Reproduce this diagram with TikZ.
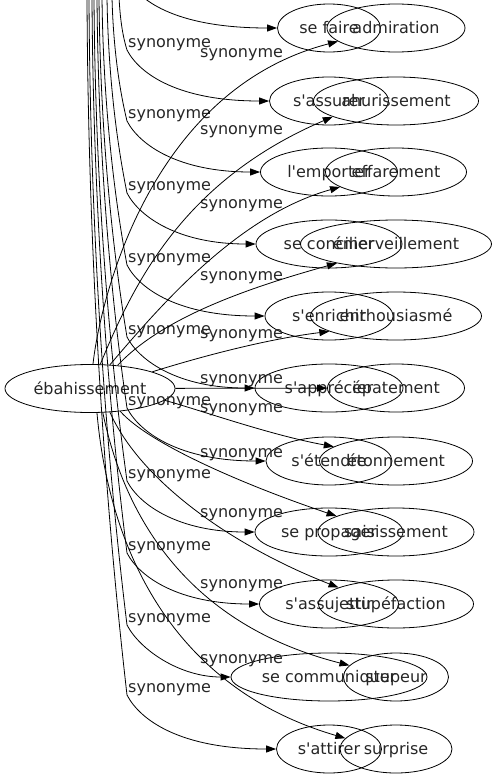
\documentclass[tikz,border=0pt]{standalone}
\usepackage{fontspec}
\setmainfont{DejaVu Sans}
\usetikzlibrary{arrows.meta, shapes.geometric}
\newcommand{\apos}{\textquotesingle}

\begin{document}
\begin{tikzpicture}[
                    % GLOBAL CFG
                    x=1pt, y=-1pt,
                    font=\fontsize{16}{19}\selectfont,
                    >={Triangle[length=10pt, width=7pt]},
                    % Styles
                    word/.style={% For the ellipses
                            ellipse,
                            draw,
                            line width=.8pt,
                            minimum height=48pt,
                            inner sep=0pt,
                            text height=11pt,
                            text depth=0pt,
                            text=black!85,
                        },
                    synlabel/.style={% For the edge labels
                            anchor=base west,
                            inner sep=0pt,
                            text=black!85,
                        },
                    link/.style={% For the connectors
                            line width=.8pt,
                        },
                ]

                % Page and cut
                \useasboundingbox (0,0) rectangle (497,779);
                \clip (0,0) rectangle (497,779);

                % Draw the source
                \node [word, minimum width=170pt] (eb) at (90,388.5) {ébahissement};

                % Draw verbs named verb#
                \node [word, minimum width=103pt] (verb1) at (329,28) {se faire};
                \node [word, minimum width=119pt] (verb2) at (329,101) {s\apos assurer};
                \node [word, minimum width=137pt] (verb3) at (329,172) {l\apos emporter};
                \node [word, minimum width=146pt] (verb4) at (329,244) {se concilier};
                \node [word, minimum width=128pt] (verb5) at (329,316) {s\apos enrichir};
                \node [word, minimum width=148pt] (verb6) at (329,388) {s\apos apprécier};
                \node [word, minimum width=126pt] (verb7) at (329,461) {s\apos étendre};
                \node [word, minimum width=148pt] (verb8) at (329,532) {se propager};
                \node [word, minimum width=139pt] (verb9) at (329,604) {s\apos assujettir};
                \node [word, minimum width=196pt] (verb10) at (329,677) {se communiquer};
                \node [word, minimum width=105pt] (verb11) at (329,749) {s\apos attirer};

                % Draw nouns named noun#
                \node [word, minimum width=138pt] (noun1) at (396,28) {admiration};
                \node [word, minimum width=165pt] (noun2) at (396,101) {ahurissement};
                \node [word, minimum width=141pt] (noun3) at (396,172) {effarement};
                \node [word, minimum width=191pt] (noun4) at (396,244) {émerveillement};
                \node [word, minimum width=171pt] (noun5) at (396,316) {enthousiasmé};
                \node [word, minimum width=137pt] (noun6) at (396,388) {épatement};
                \node [word, minimum width=153pt] (noun7) at (396,461) {étonnement};
                \node [word, minimum width=156pt] (noun8) at (396,532) {saisissement};
                \node [word, minimum width=155pt] (noun9) at (396,604) {stupéfaction};
                \node [word, minimum width=105pt] (noun10) at (396,677) {stupeur};
                \node [word, minimum width=112pt] (noun11) at (396,749) {surprise};

                % Free ends above the page
                \coordinate (top1) at (127,-22);
                \coordinate (top2) at (119,-3);
                \coordinate (top3) at (112,-3);
                \coordinate (top4) at (107,-3);
                \coordinate (top5) at (102,-3);
                \coordinate (top6) at (99,-3);
                \coordinate (top7) at (97,-3);
                \coordinate (top8) at (94,-3);
                \coordinate (top9) at (92,-3);
                \coordinate (top10) at (89,-3);
                \coordinate (top11) at (87,-3);

                % Labels of the bundle, named lb#
                \node [synlabel] (lb2) at (128,47) {synonyme};
                \node [synlabel] (lb3) at (128,118) {synonyme};
                \node [synlabel] (lb4) at (128,190) {synonyme};
                \node [synlabel] (lb5) at (128,262) {synonyme};
                \node [synlabel] (lb6) at (128,334) {synonyme};
                \node [synlabel] (lb7) at (128,405) {synonyme};
                \node [synlabel] (lb8) at (128,478) {synonyme};
                \node [synlabel] (lb9) at (128,550) {synonyme};
                \node [synlabel] (lb10) at (128,622) {synonyme};
                \node [synlabel] (lb11) at (128,692) {synonyme};

                % Labels of the fan, named la#
                \node [synlabel] (la1) at (200,57) {synonyme};
                \node [synlabel] (la2) at (200,134) {synonyme};
                \node [synlabel] (la3) at (200,208) {synonyme};
                \node [synlabel] (la4) at (200,280) {synonyme};
                \node [synlabel] (la5) at (200,338) {synonyme};
                \node [synlabel] (la6) at (200,383) {synonyme};
                \node [synlabel] (la7) at (200,412) {synonyme};
                \node [synlabel] (la8) at (200,457) {synonyme};
                \node [synlabel] (la9) at (200,517) {synonyme};
                \node [synlabel] (la10) at (200,588) {synonyme};
                \node [synlabel] (la11) at (200,663) {synonyme};

                % The bundle: down from the top, bent at each label
                \draw [->, link] (top1) .. controls +(13,25) and (180,28) .. (verb1);
                \draw [->, link] (top2) .. controls +(1,19) and +(-5,-16) .. (127,50) .. controls +(13,25) and (180,101) .. (verb2);
                \draw [->, link] (top3) .. controls +(1,43) and +(-9,-37) .. (127,121) .. controls +(13,25) and (180,172) .. (verb3);
                \draw [->, link] (top4) .. controls +(1,69) and +(-12,-59) .. (127,193) .. controls +(13,25) and (180,244) .. (verb4);
                \draw [->, link] (top5) .. controls +(1,94) and +(-15,-80) .. (127,265) .. controls +(13,25) and (180,316) .. (verb5);
                \draw [->, link] (top6) .. controls +(1,119) and +(-17,-102) .. (127,337) .. controls +(13,25) and (180,388) .. (verb6);
                \draw [->, link] (top7) .. controls +(1,144) and +(-18,-123) .. (127,408) .. controls +(13,25) and (180,461) .. (verb7);
                \draw [->, link] (top8) .. controls +(1,169) and +(-20,-145) .. (127,481) .. controls +(13,25) and (180,532) .. (verb8);
                \draw [->, link] (top9) .. controls +(1,195) and +(-21,-167) .. (127,553) .. controls +(13,25) and (180,604) .. (verb9);
                \draw [->, link] (top10) .. controls +(1,220) and +(-23,-188) .. (127,625) .. controls +(13,25) and (180,677) .. (verb10);
                \draw [->, link] (top11) .. controls +(1,244) and +(-24,-209) .. (127,695) .. controls +(13,25) and (180,749) .. (verb11);

                % The fan: from ébahissement to the nouns
                \draw [->, link] (eb.83) .. controls (100,300) and (150,90) .. (noun1.193);
                \draw [->, link] (eb.67) .. controls (135,280) and (185,180) .. (noun2.194);
                \draw [->, link] (eb.50) .. controls (165,300) and (240,215) .. (noun3.195);
                \draw [->, link] (eb.40) .. controls (160,320) and (240,290) .. (noun4.198);
                \draw [->, link] (eb.15) .. controls (190,360) and (260,340) .. (noun5.193);
                \draw [->, link] (eb) -- (noun6);
                \draw [->, link] (eb.351) .. controls (200,410) and (270,435) .. (noun7.167);
                \draw [->, link] (eb.323) .. controls (150,445) and (250,487) .. (noun8.165);
                \draw [->, link] (eb.310) .. controls (140,480) and (230,545) .. (noun9.164);
                \draw [->, link] (eb.298) .. controls (125,520) and (190,625) .. (noun10.166);
                \draw [->, link] (eb.286) .. controls (110,560) and (180,690) .. (noun11.168);

\end{tikzpicture}
\end{document}
